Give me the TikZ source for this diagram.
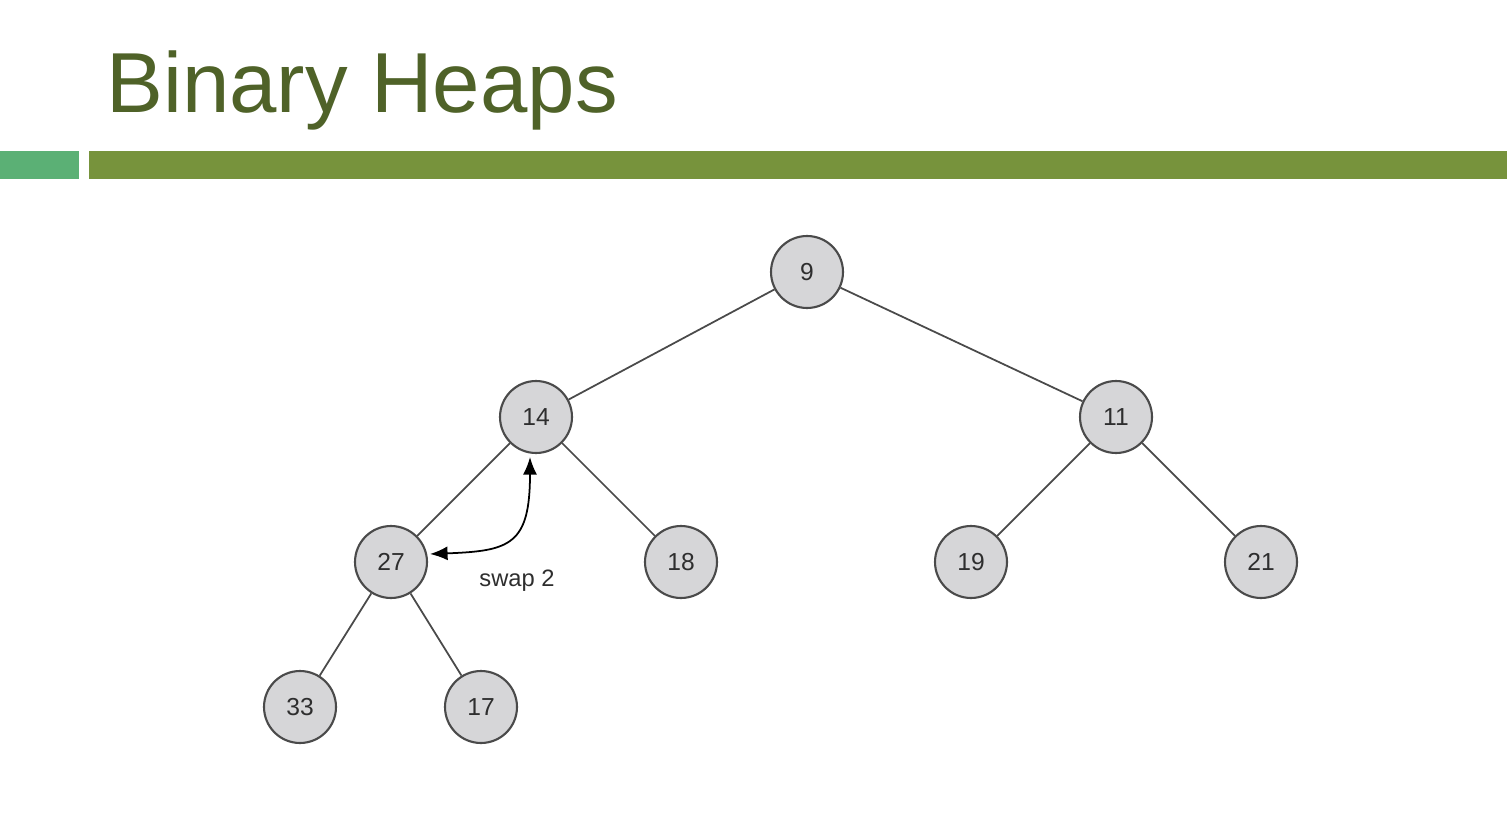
\documentclass[tikz,border=0pt]{standalone}
\usepackage{fontspec}
\setmainfont{Liberation Sans}
\usetikzlibrary{arrows.meta}
\definecolor{titlegreen}{HTML}{4F6228}
\definecolor{barlight}{HTML}{5BB075}
\definecolor{bardark}{HTML}{77933C}
\definecolor{nodefill}{HTML}{D6D6D8}
\definecolor{nodeline}{HTML}{4A4A4A}
\definecolor{txt}{HTML}{2E2E2E}
\tikzset{
  heapnode/.style={circle, draw=nodeline, fill=nodefill, line width=1.2pt,
    minimum size=1.44cm, inner sep=0pt, font=\fontsize{14}{16}\selectfont, text=txt},
  edge/.style={draw=nodeline, line width=1.0pt},
  swaparrow/.style={draw=black, line width=1.0pt, {Latex[length=10pt,width=8pt]}-{Latex[length=10pt,width=8pt]}}
}
\begin{document}
\begin{tikzpicture}[x=0.02cm, y=-0.02cm]
\useasboundingbox (0,0) rectangle (1507,834);
\fill[white] (0,0) rectangle (1507,834);
% title and bars
\node[anchor=base west, inner sep=0pt, text=titlegreen, font=\fontsize{48.5}{56}\selectfont] (title) at (106,113) {Binary Heaps};
\fill[barlight] (0,151) rectangle (79,179);
\fill[bardark] (89,151) rectangle (1507,179);
% nodes
\node[heapnode] (n9) at (807,272) {9};
\node[heapnode] (n14) at (536,417) {14};
\node[heapnode] (n11) at (1116,417) {11};
\node[heapnode] (n27) at (391,562) {27};
\node[heapnode] (n18) at (681,562) {18};
\node[heapnode] (n19) at (971,562) {19};
\node[heapnode] (n21) at (1261,562) {21};
\node[heapnode] (n33) at (300,707) {33};
\node[heapnode] (n17) at (481,707) {17};
% edges
\draw[edge] (n9) -- (n14);
\draw[edge] (n9) -- (n11);
\draw[edge] (n14) -- (n27);
\draw[edge] (n14) -- (n18);
\draw[edge] (n11) -- (n19);
\draw[edge] (n11) -- (n21);
\draw[edge] (n27) -- (n33);
\draw[edge] (n27) -- (n17);
% swap arrow
\coordinate (a1) at (530,457);
\coordinate (a2) at (430,554);
\draw[swaparrow] (a1) .. controls (530,545) and (510,551) .. (a2);
\node[text=txt, font=\fontsize{13.5}{15}\selectfont] (swap) at (517,581) {swap 2};
\end{tikzpicture}
\end{document}
